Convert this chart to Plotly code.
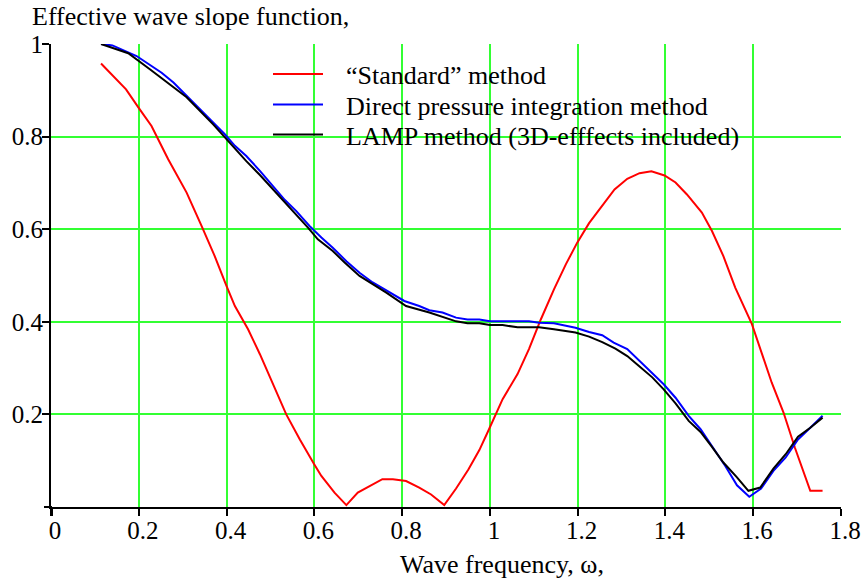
import plotly.graph_objects as go

# ---- data ----
omega_std = [0.114, 0.171, 0.199, 0.229, 0.267, 0.309, 0.343, 0.373, 0.400, 0.419, 0.449, 0.476,
             0.536, 0.567, 0.600, 0.616, 0.646, 0.673, 0.699, 0.726, 0.755, 0.779, 0.809, 0.839,
             0.866, 0.896, 0.923, 0.951, 0.976, 0.998, 1.029, 1.063, 1.089, 1.116, 1.146, 1.173,
             1.199, 1.226, 1.256, 1.284, 1.313, 1.341, 1.368, 1.398, 1.423, 1.449, 1.483, 1.506,
             1.532, 1.559, 1.597, 1.620, 1.642, 1.669, 1.695, 1.730, 1.758]
standard = [0.958, 0.902, 0.863, 0.823, 0.751, 0.679, 0.607, 0.542, 0.477, 0.434, 0.384, 0.330,
            0.200, 0.146, 0.092, 0.067, 0.031, 0.004, 0.031, 0.045, 0.060, 0.060, 0.056, 0.042,
            0.027, 0.004, 0.040, 0.081, 0.123, 0.168, 0.233, 0.287, 0.341, 0.405, 0.470, 0.524,
            0.571, 0.613, 0.650, 0.686, 0.709, 0.721, 0.725, 0.716, 0.701, 0.675, 0.636, 0.596,
            0.542, 0.474, 0.395, 0.333, 0.269, 0.204, 0.128, 0.035, 0.035]

omega_dp = [0.114, 0.140, 0.195, 0.226, 0.252, 0.279, 0.309, 0.339, 0.370, 0.396, 0.419, 0.445,
            0.476, 0.506, 0.533, 0.559, 0.589, 0.616, 0.642, 0.673, 0.703, 0.733, 0.764, 0.805,
            0.839, 0.862, 0.892, 0.923, 0.949, 0.976, 1.000, 1.089, 1.112, 1.146, 1.195, 1.226,
            1.256, 1.282, 1.313, 1.339, 1.370, 1.396, 1.423, 1.453, 1.480, 1.506, 1.536, 1.563,
            1.591, 1.618, 1.646, 1.674, 1.702, 1.730, 1.758]
direct = [1.000, 0.997, 0.974, 0.955, 0.938, 0.917, 0.888, 0.859, 0.830, 0.805, 0.780, 0.758,
          0.726, 0.693, 0.663, 0.639, 0.607, 0.582, 0.560, 0.531, 0.506, 0.485, 0.467, 0.445,
          0.434, 0.425, 0.420, 0.409, 0.405, 0.405, 0.401, 0.401, 0.398, 0.397, 0.387, 0.378,
          0.371, 0.355, 0.341, 0.317, 0.290, 0.265, 0.236, 0.197, 0.168, 0.132, 0.089, 0.047,
          0.022, 0.040, 0.078, 0.107, 0.146, 0.171, 0.197]

omega_lamp = [0.114, 0.176, 0.226, 0.309, 0.370, 0.396, 0.445, 0.476, 0.506, 0.536, 0.586, 0.608,
              0.642, 0.669, 0.703, 0.764, 0.809, 0.862, 0.892, 0.923, 0.949, 0.976, 1.000, 1.029,
              1.063, 1.112, 1.146, 1.195, 1.226, 1.256, 1.286, 1.313, 1.339, 1.370, 1.396, 1.423,
              1.453, 1.480, 1.506, 1.532, 1.563, 1.589, 1.616, 1.646, 1.674, 1.702, 1.730, 1.758]
lamp = [1.000, 0.980, 0.945, 0.885, 0.826, 0.798, 0.747, 0.717, 0.686, 0.654, 0.603, 0.578,
        0.553, 0.528, 0.499, 0.463, 0.434, 0.420, 0.410, 0.401, 0.397, 0.397, 0.393, 0.393,
        0.388, 0.388, 0.384, 0.377, 0.368, 0.356, 0.342, 0.326, 0.305, 0.280, 0.254, 0.224,
        0.186, 0.162, 0.130, 0.096, 0.064, 0.035, 0.042, 0.083, 0.114, 0.152, 0.171, 0.193]

x_ticks = [0, 0.2, 0.4, 0.6, 0.8, 1.0, 1.2, 1.4, 1.6, 1.8]
x_tick_text = ["0", "0.2", "0.4", "0.6", "0.8", "1", "1.2", "1.4", "1.6", "1.8"]
y_ticks = [0.2, 0.4, 0.6, 0.8, 1.0]
y_tick_text = ["0.2", "0.4", "0.6", "0.8", "1"]

series_names = ["\u201cStandard\u201d method",
                "Direct pressure integration method",
                "LAMP method (3D-efffects included)"]
series_colors = ["#ff0000", "#0000ff", "#000000"]

# ---- layout constants ----
W, H = 862, 580
ML, MR, MT, MB = 51, 21, 44, 73
PW, PH = W - ML - MR, H - MT - MB
FONT = "Liberation Serif"
GRID = "#33ff33"


def px_x(p):
    return (p - ML) / PW


def px_y(p):
    return (H - MB - p) / PH


fig = go.Figure()
xs = [omega_std, omega_dp, omega_lamp]
ys = [standard, direct, lamp]
for name, col, xv, yv in zip(series_names, series_colors, xs, ys):
    fig.add_trace(go.Scatter(x=xv, y=yv, mode="lines", name=name,
                             line=dict(color=col, width=2), showlegend=False))

# manual legend (lines + text)
leg_rows = [74, 104.5, 134.5]
shapes = []
annotations = []
for name, col, ry in zip(series_names, series_colors, leg_rows):
    shapes.append(dict(type="line", xref="paper", yref="paper",
                       x0=px_x(273), x1=px_x(323), y0=px_y(ry), y1=px_y(ry),
                       line=dict(color=col, width=2)))
    annotations.append(dict(text=name, xref="paper", yref="paper",
                            x=px_x(344), y=px_y(ry + 2), xanchor="left", yanchor="middle",
                            showarrow=False, font=dict(family=FONT, size=26, color="black")))

# axis line overhangs (Mathcad style crossing)
shapes.append(dict(type="line", xref="paper", yref="paper",
                   x0=px_x(52), x1=px_x(52), y0=px_y(507), y1=px_y(516),
                   line=dict(color="black", width=2)))
shapes.append(dict(type="line", xref="paper", yref="paper",
                   x0=px_x(44), x1=px_x(52), y0=px_y(507), y1=px_y(507),
                   line=dict(color="black", width=2)))

annotations.append(dict(text="Wave frequency, \u03c9,", xref="paper", yref="paper",
                        x=px_x(502), y=px_y(564), xanchor="center", yanchor="middle",
                        showarrow=False, font=dict(family=FONT, size=26, color="black")))

fig.update_layout(
    width=W, height=H,
    margin=dict(l=ML, r=MR, t=MT, b=MB, autoexpand=False),
    paper_bgcolor="white", plot_bgcolor="white",
    font=dict(family=FONT, size=25, color="black"),
    title=dict(text="Effective wave slope function,", xref="container", yref="container",
               x=32 / W, xanchor="left", y=1 - 16 / H, yanchor="middle",
               font=dict(family=FONT, size=26, color="black")),
    shapes=shapes, annotations=annotations,
    showlegend=False,
)
fig.update_xaxes(range=[0, 1.8], tickvals=x_ticks, ticktext=x_tick_text,
                 showgrid=True, gridcolor=GRID, gridwidth=2, zeroline=False,
                 showline=True, linecolor="black", linewidth=2,
                 ticks="outside", ticklen=7, tickwidth=2, tickcolor="black",
                 ticklabelshift=4, ticklabelstandoff=-7,
                 tickfont=dict(family=FONT, size=25, color="black"))
fig.update_yaxes(range=[0, 1], tickvals=y_ticks, ticktext=y_tick_text,
                 showgrid=True, gridcolor=GRID, gridwidth=2, zeroline=False,
                 showline=True, linecolor="black", linewidth=2,
                 ticks="outside", ticklen=7, tickwidth=2, tickcolor="black",
                 ticklabelstandoff=-6,
                 tickfont=dict(family=FONT, size=25, color="black"))

fig.write_html("out.html")
